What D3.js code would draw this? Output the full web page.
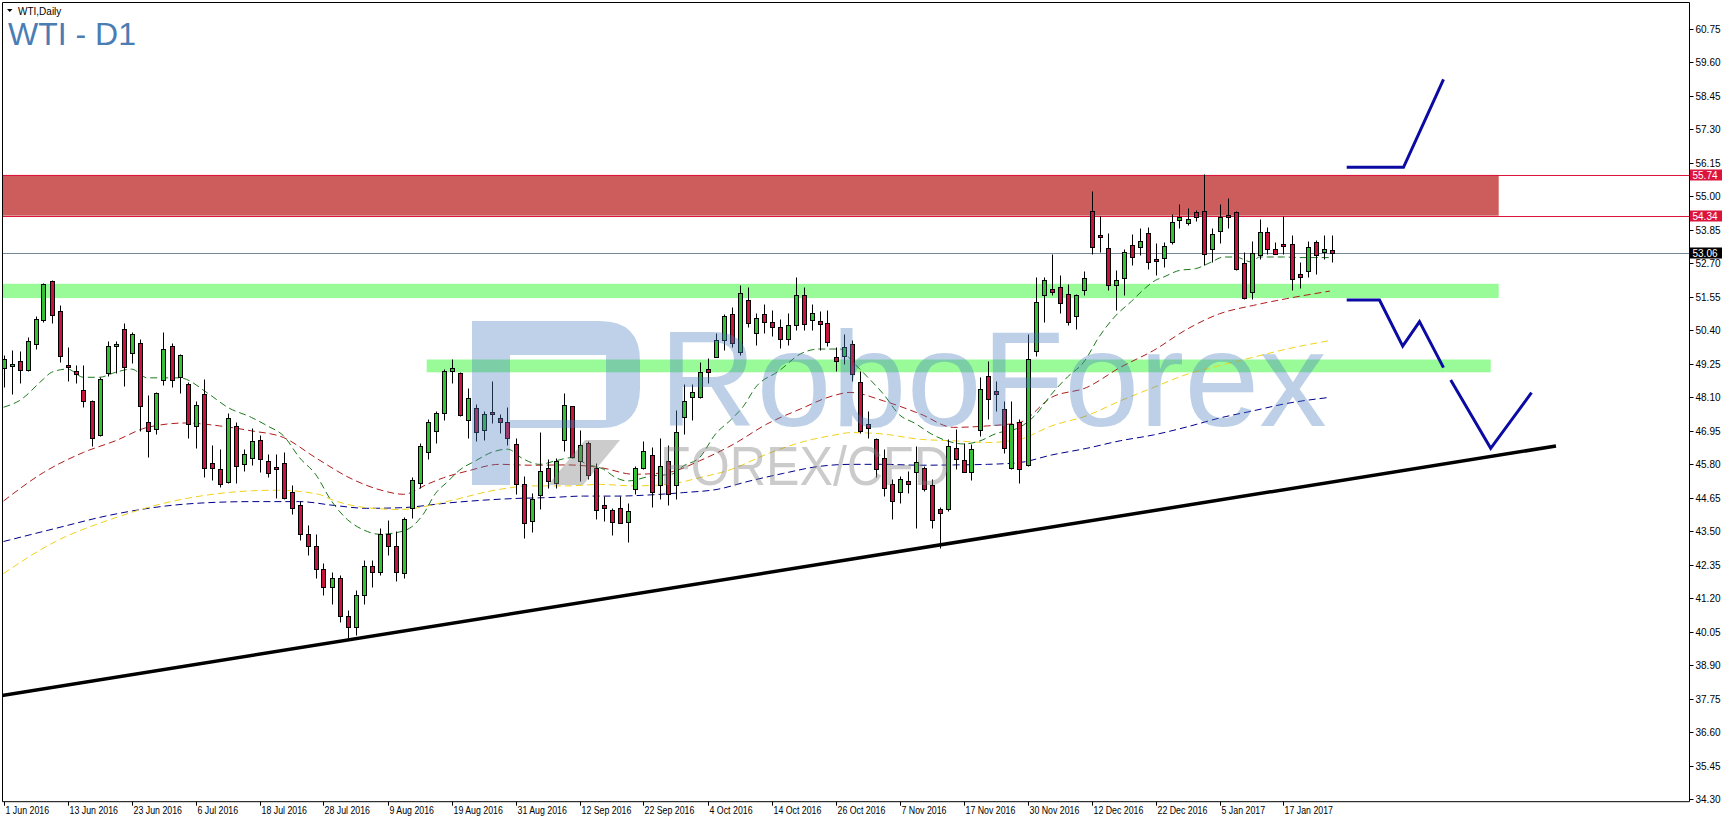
<!DOCTYPE html>
<html><head><meta charset="utf-8">
<script src="https://cdn.jsdelivr.net/npm/d3@7"></script>
<style>html,body{margin:0;padding:0;background:#fff;overflow:hidden}</style>
</head><body>
<svg id="c" width="1729" height="822"></svg>
<script>
// ---------------- DATA ----------------
const dateLabels = ["1 Jun 2016","13 Jun 2016","23 Jun 2016","6 Jul 2016","18 Jul 2016","28 Jul 2016","9 Aug 2016","19 Aug 2016","31 Aug 2016","12 Sep 2016","22 Sep 2016","4 Oct 2016","14 Oct 2016","26 Oct 2016","7 Nov 2016","17 Nov 2016","30 Nov 2016","12 Dec 2016","22 Dec 2016","5 Jan 2017","17 Jan 2017"];
const dateLabelBars = [0,8,16,24,32,40,48,56,64,72,80,88,96,104,112,120,128,136,144,152,160];
const priceTicks = [60.75,59.60,58.45,57.30,56.15,55.00,53.85,52.70,51.55,50.40,49.25,48.10,46.95,45.80,44.65,43.50,42.35,41.20,40.05,38.90,37.75,36.60,35.45,34.30];

const opens = [
49.11,49.16,49.36,49.04,49.94,50.76,52.08,51.08,49.22,48.99,
48.36,47.99,46.81,48.93,49.87,50.45,49.62,49.97,47.27,47.01,
48.71,49.88,48.81,48.56,47.12,48.21,45.86,45.63,45.21,47.10,
45.81,46.01,46.63,45.90,45.68,45.84,44.85,44.39,43.40,43.00,
42.20,41.60,41.90,40.60,40.20,41.30,42.30,42.10,43.40,43.00,
42.07,44.31,45.17,46.21,46.93,47.56,48.99,48.93,47.32,47.73,
46.97,47.56,47.39,47.27,46.49,45.14,43.85,44.75,45.69,45.17,
46.63,47.80,45.92,46.55,45.67,44.40,44.22,44.29,43.81,44.94,
45.67,46.11,45.09,45.92,45.09,47.41,48.10,48.10,49.07,49.50,
50.07,50.97,49.65,51.45,50.30,50.95,50.68,50.50,50.10,50.60,
51.60,50.76,50.72,50.65,49.48,49.53,49.94,48.62,47.20,46.66,
46.03,45.12,44.86,45.23,45.54,45.69,45.09,44.25,44.25,46.35,
45.94,45.55,46.98,48.85,48.33,47.70,45.67,47.27,45.78,49.68,
51.60,51.83,51.89,51.66,50.88,51.80,54.49,53.65,53.24,51.95,
52.21,53.32,53.27,53.76,52.82,52.90,53.44,54.18,54.09,54.45,
54.50,53.21,53.82,54.36,54.47,52.71,51.72,52.98,53.78,53.21,
53.33,53.36,52.32,52.44,53.44,53.09,53.17];
const highs = [
49.55,49.73,49.68,50.19,50.91,52.04,52.12,51.26,49.84,49.22,
49.22,48.01,48.81,50.05,50.03,50.66,50.34,50.09,48.19,48.27,
50.34,49.96,49.59,48.62,47.99,48.73,46.47,46.32,47.55,47.27,
46.32,47.04,46.81,46.15,46.17,46.24,45.09,44.54,43.70,43.40,
42.40,42.10,42.00,40.80,41.50,42.50,42.50,43.60,43.90,43.50,
44.00,45.38,46.55,47.35,47.64,49.07,49.42,48.96,48.42,47.87,
47.64,48.67,47.53,47.78,46.70,45.40,44.83,46.92,45.98,46.03,
48.24,47.82,46.99,46.61,45.83,44.71,44.31,44.71,44.48,45.75,
46.61,46.40,46.72,46.47,47.68,48.56,48.56,49.30,49.45,50.31,
50.97,51.20,51.95,51.90,51.00,51.30,51.10,50.80,51.00,52.25,
51.90,51.30,51.08,51.10,49.82,50.28,50.07,49.02,47.64,46.70,
46.32,45.29,45.40,45.57,46.43,45.75,45.29,44.34,46.66,47.01,
46.55,46.49,48.79,49.36,48.67,47.96,47.96,47.35,50.28,52.23,
52.23,53.01,52.29,51.98,51.66,52.44,55.18,54.32,53.76,52.49,
53.21,53.70,53.90,53.95,53.40,53.44,54.41,54.73,54.62,54.55,
55.77,53.90,54.73,54.93,54.49,53.09,53.47,54.21,53.95,53.44,
54.32,53.67,52.75,53.47,53.50,53.67,53.67];
const lows = [
48.45,48.21,48.58,49.02,49.76,50.68,50.65,49.31,48.65,48.58,
47.76,46.44,46.79,48.85,48.93,48.50,49.27,46.93,46.06,46.84,
48.53,48.47,48.24,46.72,46.36,45.37,45.25,45.02,45.17,45.17,
45.57,45.78,45.55,45.35,44.63,44.61,44.10,43.20,42.70,41.90,
41.30,41.00,40.40,39.85,39.95,41.00,41.60,42.00,42.70,41.80,
41.90,43.97,45.00,45.98,46.55,47.32,48.58,47.47,46.72,46.61,
46.63,47.22,46.86,46.47,44.79,43.28,43.49,44.25,45.00,44.98,
46.26,46.03,45.23,45.29,43.91,43.85,43.39,43.77,43.14,44.79,
45.64,44.35,44.60,44.40,44.60,46.84,47.32,48.08,48.58,49.48,
49.71,49.82,49.55,50.50,49.90,50.30,50.20,49.80,49.90,50.40,
50.40,50.40,49.71,49.88,49.02,49.25,48.67,46.89,46.72,45.35,
44.71,43.94,44.48,44.83,43.60,44.89,43.62,42.94,44.20,45.63,
45.52,45.25,46.78,47.35,47.64,46.20,45.64,45.17,45.75,49.53,
50.68,51.60,50.99,50.57,50.45,51.60,53.01,53.09,51.80,51.11,
51.62,52.63,52.98,52.52,52.31,52.58,53.36,53.93,54.03,54.16,
52.63,52.75,53.40,53.93,52.48,51.49,51.49,52.86,53.01,53.01,
53.04,51.77,51.86,52.23,52.35,52.86,52.75];
const closes = [
49.42,49.21,49.04,50.02,50.80,52.00,50.93,49.51,49.13,48.90,
47.96,46.70,48.73,49.88,49.89,49.13,50.26,47.79,46.93,48.25,
49.76,48.70,49.56,47.18,47.84,45.69,45.69,45.12,47.39,45.75,
46.15,46.61,45.98,45.49,45.63,44.66,44.31,43.40,43.00,42.20,
41.60,41.90,40.60,40.20,41.30,42.30,42.10,43.40,43.00,42.10,
43.94,45.26,46.44,47.26,47.56,48.99,49.11,47.50,48.08,46.92,
47.53,47.54,47.24,46.70,45.11,43.79,44.60,45.57,45.23,45.90,
47.84,46.06,46.46,45.44,44.22,44.31,43.83,43.80,44.20,45.67,
46.26,44.86,45.75,44.77,46.92,47.98,48.27,48.98,48.96,50.07,
50.91,49.96,51.70,50.65,50.83,50.68,50.50,50.10,50.60,51.60,
50.62,50.99,50.62,49.99,49.36,49.84,48.90,46.93,47.04,45.63,
45.00,44.54,45.29,45.12,45.88,44.94,43.88,44.14,46.43,45.98,
45.55,46.32,48.39,48.04,48.21,46.35,47.18,45.63,49.42,51.37,
52.12,51.72,51.34,50.68,51.60,52.21,53.27,53.61,51.95,52.12,
53.09,52.92,53.46,52.75,52.80,53.29,54.13,54.28,54.23,54.28,
53.04,53.72,54.30,54.28,52.52,51.52,53.06,53.78,53.21,53.04,
53.31,52.17,52.23,53.27,52.98,53.21,53.06];

// moving averages: [bar, price]
const maGreen = [[0,47.76],[2,47.99],[5,48.73],[6,48.96],[8,49.07],[10,48.79],[12,48.79],[14,48.96],[16,49.07],[18,48.77],[22,48.77],[25.7,48.21],[28,47.76],[31,47.41],[33,47.12],[35,46.78],[37,46.03],[39,45.46],[41,44.54],[43,43.9],[45,43.55],[47,43.4],[49,43.45],[51,43.65],[52.5,44.1],[54,44.8],[55.5,45.2],[57,45.6],[59,45.92],[61,46.21],[63,46.32],[65,45.98],[67,45.8],[69,45.92],[71,46.03],[73,45.8],[75,45.63],[76.5,45.35],[78,45.23],[81,45.4],[83.5,45.46],[85,45.75],[87,46.03],[89,46.84],[91,47.35],[92.5,47.8],[94,48.44],[97,49.02],[99.6,49.59],[102,49.76],[104.6,49.76],[106,49.36],[108,48.8],[110,48.21],[112,47.5],[114,47.2],[116,46.84],[118,46.6],[120,46.5],[122,46.6],[124,46.85],[127,47.07],[129,47.5],[131,48.21],[133,48.8],[135,49.3],[137,50.2],[139,50.9],[141,51.4],[142.5,51.8],[144,52.12],[145,52.23],[147,52.46],[149,52.52],[151,52.75],[152.5,52.92],[154,52.92],[156,52.75],[157,52.92],[160,52.92],[162,52.9],[166,52.9]];
const maRed = [[0,44.54],[5,45.52],[10,46.21],[14,46.61],[18,47.07],[22.8,47.22],[27,47.12],[31,46.95],[35,46.72],[39,46.03],[43.6,45.29],[47.5,44.89],[50,44.77],[53,45.12],[55,45.34],[58,45.57],[62,45.8],[66,45.77],[70.4,45.78],[74.6,45.69],[78.8,45.46],[83,45.52],[87,45.92],[91.25,46.49],[95.4,47.18],[99.6,47.7],[103.75,48.16],[105.8,48.27],[110,47.98],[114.6,47.53],[118.75,47.07],[123,47.12],[127,47.24],[131,48.1],[135.4,48.44],[139.6,49.13],[143.75,49.71],[148,50.45],[152,50.97],[156.25,51.26],[160.4,51.49],[165.8,51.75]];
const maYellow = [[0,42.05],[6.5,43.15],[13.4,43.91],[20.3,44.48],[24.6,44.71],[31,44.89],[34.4,44.91],[39.4,44.77],[41.3,44.56],[45.4,44.31],[49.6,44.25],[54,44.43],[56,44.56],[62,44.94],[66,45.06],[70.4,45.06],[74.6,45.11],[78.8,45.06],[83,45.11],[87,45.34],[91,45.63],[95.4,46.15],[99.6,46.55],[103.75,46.8],[106,46.89],[110,46.84],[114.6,46.66],[118.75,46.61],[123,46.55],[127,46.66],[131,47.12],[135.4,47.47],[139.6,47.98],[143.75,48.44],[148,48.9],[152,49.19],[156.25,49.48],[160.4,49.76],[165.8,50.05]];
const maBlue = [[0,43.15],[6.5,43.6],[13.4,44.06],[20.3,44.37],[27,44.5],[31,44.52],[37,44.52],[41.3,44.39],[45.4,44.29],[49.6,44.31],[55.8,44.48],[60,44.57],[64.2,44.63],[68.3,44.66],[72.5,44.71],[76.7,44.71],[80.8,44.75],[85,44.83],[89.2,44.94],[93.3,45.23],[97.5,45.49],[101.7,45.72],[106,45.8],[110,45.8],[114.6,45.77],[118.75,45.78],[123,45.8],[127,45.86],[131,46.12],[135.4,46.35],[139.6,46.61],[143.75,46.81],[148,47.09],[152,47.39],[156.25,47.64],[160.4,47.89],[165.8,48.1]];

// analysis objects: [bar, price]
const resistanceZone = [[-2,55.74],[186.9,54.34]];
const supportZone1 = [[-2,52.00],[186.9,51.51]];
const supportZone2 = [[52.9,49.40],[185.9,48.96]];
const trendLine = [[-0.19,37.86],[194.06,46.43]];
const arrowUp = [[167.9,56.00],[175.0,56.00],[180.0,59.02]];
const arrowDown1 = [[167.9,51.44],[172.0,51.44],[174.9,49.86],[177.0,50.70],[180.0,49.12]];
const arrowDown2 = [[180.9,48.70],[185.9,46.35],[191.0,48.26]];
const markedLevels = [55.74, 54.34];
const currentPrice = 53.06;

// ---------------- DRAW ----------------
const svg = d3.select("#c");
const FONT = "'Liberation Sans', Arial, sans-serif";
const L = 2, T = 2, R = 1689.5, B = 801.7;
const x = d3.scaleLinear().domain([0, 210]).range([3.5, 1683.5]);
const y = d3.scaleLinear().domain([34.215, 61.677]).range([B, T]);
const cy = p => Math.round(y(p)) + 0.5;

svg.append("rect").attr("width",1729).attr("height",822).attr("fill","#fff");
svg.append("defs").append("clipPath").attr("id","plot").append("rect")
  .attr("x",L).attr("y",T).attr("width",R-L).attr("height",B-T);
const g = svg.append("g").attr("clip-path","url(#plot)");

// zones
function zone(z, fill){
  g.append("rect").attr("x",x(z[0][0])).attr("y",y(z[0][1]))
   .attr("width",x(z[1][0])-x(z[0][0])).attr("height",y(z[1][1])-y(z[0][1])).attr("fill",fill);
}
zone(resistanceZone,"#cd5c5c");
zone(supportZone1,"#98fb98");
zone(supportZone2,"#98fb98");
markedLevels.forEach(p=>{
  g.append("line").attr("x1",L).attr("x2",R).attr("y1",cy(p)).attr("y2",cy(p))
   .attr("stroke","#dc143c").attr("stroke-width",1);
});
g.append("line").attr("x1",L).attr("x2",R).attr("y1",cy(currentPrice)).attr("y2",cy(currentPrice))
  .attr("stroke","#778899").attr("stroke-width",1);

// moving averages
const lineGen = d3.line().x(d=>x(d[0])).y(d=>y(d[1])).curve(d3.curveMonotoneX);
[[maBlue,"#00008b"],[maYellow,"#f2d21b"],[maRed,"#b01c1c"],[maGreen,"#1b7a1b"]].forEach(([d,c])=>{
  g.append("path").attr("d",lineGen(d)).attr("fill","none").attr("stroke",c)
   .attr("stroke-width",1).attr("stroke-dasharray","7,4");
});

// candles
const bars = d3.range(opens.length);
const cg = g.append("g");
bars.forEach(i=>{
  const cx = Math.round(x(i)) + 0.5;
  cg.append("line").attr("x1",cx).attr("x2",cx).attr("y1",cy(highs[i])).attr("y2",cy(lows[i]))
    .attr("stroke","#000").attr("stroke-width",1);
  const o = cy(opens[i]), c = cy(closes[i]);
  const top = Math.min(o,c), h = Math.abs(o-c);
  const fill = closes[i] >= opens[i] ? "#35c035" : "#c8143c";
  cg.append("rect").attr("x",cx-2).attr("y",h<1.5?top-1:top).attr("width",4).attr("height",Math.max(h,2))
    .attr("fill", fill).attr("stroke","#000").attr("stroke-width",1);
});

// trend line & arrows
g.append("path").attr("d",d3.line().x(d=>x(d[0])).y(d=>y(d[1]))(trendLine))
  .attr("stroke","#000").attr("stroke-width",3.5).attr("fill","none");
[arrowUp, arrowDown1, arrowDown2].forEach(a=>{
  g.append("path").attr("d",d3.line().x(d=>x(d[0])).y(d=>y(d[1]))(a))
   .attr("stroke","#0b0ba3").attr("stroke-width",3).attr("fill","none")
   .attr("stroke-linejoin","miter").attr("stroke-linecap","butt");
});

// watermark (on top, translucent)
const wm = g.append("g");
wm.append("path").attr("fill-rule","evenodd").attr("fill","#4a7fbf").attr("opacity",0.36)
  .attr("d","M472,321 H600 Q640,321 640,361 V388 Q640,428 600,428 H510 V485 H472 Z M510,355 H606 V420 H510 Z");
wm.append("path").attr("fill","#808080").attr("opacity",0.4)
  .attr("d","M548,485 L585,440 H620 L583,485 Z");
wm.append("text").attr("x",659).attr("y",426).attr("font-family",FONT).attr("font-size",135)
  .attr("fill","#4a7fbf").attr("opacity",0.36).text("RoboForex");
wm.append("text").attr("x",660).attr("y",485).attr("font-family",FONT).attr("font-size",55)
  .attr("textLength",290).attr("lengthAdjust","spacingAndGlyphs")
  .attr("fill","#808080").attr("opacity",0.4).text("FOREX/CFD");

// frame
svg.append("path").attr("d",`M${L+0.5},${T+0.5} H${R} V${B} H${L+0.5} Z`)
  .attr("fill","none").attr("stroke","#000").attr("stroke-width",1);

// price axis
const ax = svg.append("g");
priceTicks.forEach(p=>{
  const yy = Math.round(y(p)) + 0.5;
  ax.append("line").attr("x1",R).attr("x2",R+4).attr("y1",yy).attr("y2",yy).attr("stroke","#000");
  ax.append("text").attr("x",R+6).attr("y",yy+3.5).attr("font-family",FONT).attr("font-size",10)
    .attr("fill","#000").text(p.toFixed(2));
});
function tag(p, bg){
  const yy = Math.round(y(p));
  ax.append("rect").attr("x",R+0.5).attr("y",yy-5.5).attr("width",32).attr("height",11).attr("fill",bg);
  ax.append("text").attr("x",R+3).attr("y",yy+4).attr("font-family",FONT).attr("font-size",10)
    .attr("fill","#fff").text(p.toFixed(2));
}
markedLevels.forEach(p=>tag(p,"#dc143c"));
tag(currentPrice,"#000");

// date axis
dateLabelBars.forEach((b,k)=>{
  const xx = Math.round(x(b)) + 0.5;
  ax.append("line").attr("x1",xx).attr("x2",xx).attr("y1",B).attr("y2",B+4).attr("stroke","#000");
  const t = ax.append("text").attr("x",xx+1).attr("y",814).attr("font-family",FONT).attr("font-size",10)
    .attr("fill","#000").text(dateLabels[k]);
  const w = t.node().getComputedTextLength();
  t.attr("textLength", (w*0.88).toFixed(1)).attr("lengthAdjust","spacingAndGlyphs");
});

// titles
svg.append("path").attr("d","M7,9 L12.5,9 L9.75,12 Z").attr("fill","#000");
svg.append("text").attr("x",18).attr("y",15).attr("font-family",FONT).attr("font-size",10)
  .attr("fill","#000").text("WTI,Daily");
svg.append("text").attr("x",8).attr("y",45).attr("font-family",FONT).attr("font-size",32)
  .attr("fill","#4a7db4").text("WTI - D1");
</script>
</body></html>
